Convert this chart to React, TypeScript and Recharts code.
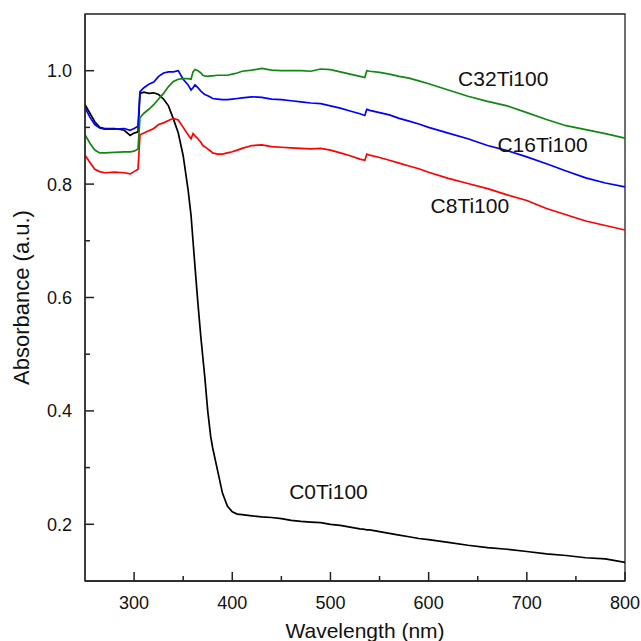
import { LineChart, Line, XAxis, YAxis, ReferenceArea, ReferenceDot } from 'recharts';

// wavelength grid (nm)
const wavelength = [
  250, 255, 260, 265, 270, 280, 290, 296, 300, 304, 306, 310, 315, 320, 325, 330, 335, 340, 345, 350,
  355, 358, 360, 362, 365, 368, 370, 372, 375, 378, 380, 385, 390, 395, 400, 405, 410, 420, 430, 440,
  450, 460, 470, 480, 490, 500, 510, 520, 530, 535, 537, 540, 550, 560, 570, 580, 590, 600, 620, 640,
  660, 680, 700, 720, 740, 760, 780, 800,
];

const c0Ti100 = [
  0.940, 0.925, 0.910, 0.900, 0.898, 0.898, 0.895, 0.886, 0.890, 0.892, 0.960, 0.962, 0.960, 0.961, 0.958, 0.950, 0.938, 0.915, 0.890, 0.850,
  0.790, 0.745, 0.700, 0.655, 0.590, 0.530, 0.495, 0.460, 0.400, 0.355, 0.335, 0.295, 0.255, 0.232, 0.222, 0.218, 0.217, 0.215, 0.213, 0.212,
  0.210, 0.207, 0.205, 0.204, 0.203, 0.200, 0.198, 0.195, 0.192, 0.191, 0.190, 0.190, 0.187, 0.184, 0.181, 0.178, 0.175, 0.173, 0.168, 0.163,
  0.159, 0.156, 0.152, 0.148, 0.145, 0.141, 0.139, 0.133,
];

const c8Ti100 = [
  0.851, 0.838, 0.826, 0.822, 0.820, 0.821, 0.820, 0.818, 0.822, 0.826, 0.887, 0.890, 0.894, 0.898, 0.905, 0.908, 0.912, 0.916, 0.913, 0.900,
  0.887, 0.880, 0.889, 0.885, 0.880, 0.874, 0.868, 0.866, 0.862, 0.858, 0.855, 0.853, 0.853, 0.855, 0.857, 0.860, 0.863, 0.868, 0.869, 0.866,
  0.865, 0.864, 0.863, 0.862, 0.863, 0.860, 0.855, 0.850, 0.844, 0.842, 0.853, 0.851, 0.847, 0.842, 0.837, 0.832, 0.827, 0.821, 0.810, 0.801,
  0.792, 0.781, 0.771, 0.757, 0.746, 0.735, 0.727, 0.719,
];

const c16Ti100 = [
  0.935, 0.918, 0.905, 0.899, 0.897, 0.897, 0.898, 0.895, 0.898, 0.902, 0.963, 0.970, 0.976, 0.980, 0.990, 0.996, 0.998, 0.998, 1.000, 0.985,
  0.975, 0.966, 0.970, 0.975, 0.970, 0.964, 0.961, 0.958, 0.956, 0.953, 0.951, 0.950, 0.949, 0.949, 0.950, 0.951, 0.952, 0.954, 0.953, 0.950,
  0.949, 0.947, 0.945, 0.943, 0.942, 0.938, 0.934, 0.929, 0.924, 0.921, 0.932, 0.930, 0.926, 0.922, 0.916, 0.911, 0.906, 0.900, 0.890, 0.880,
  0.868, 0.859, 0.848, 0.836, 0.823, 0.811, 0.802, 0.795,
];

const c32Ti100 = [
  0.887, 0.872, 0.860, 0.855, 0.855, 0.856, 0.857, 0.857, 0.858, 0.862, 0.917, 0.925, 0.932, 0.940, 0.950, 0.960, 0.972, 0.981, 0.985, 0.986,
  0.986, 0.985, 0.998, 1.002, 1.000, 0.996, 0.992, 0.991, 0.990, 0.991, 0.991, 0.992, 0.992, 0.992, 0.994, 0.996, 0.999, 1.001, 1.004, 1.001,
  1.000, 1.000, 1.000, 0.999, 1.003, 1.002, 0.998, 0.994, 0.990, 0.988, 1.000, 0.999, 0.997, 0.994, 0.990, 0.987, 0.982, 0.977, 0.966, 0.955,
  0.946, 0.938, 0.926, 0.914, 0.903, 0.896, 0.889, 0.881,
];

const xTicks = [300, 350, 400, 450, 500, 550, 600, 650, 700, 750, 800];
const yTicks = [0.2, 0.3, 0.4, 0.5, 0.6, 0.7, 0.8, 0.9, 1.0];

// series label anchors, in data units (nm, absorbance)
const seriesLabels = [
  { name: 'C32Ti100', wl: 676, abs: 0.987 },
  { name: 'C16Ti100', wl: 716, abs: 0.869 },
  { name: 'C8Ti100', wl: 642, abs: 0.763 },
  { name: 'C0Ti100', wl: 498, abs: 0.257 },
];

const chartData = wavelength.map((wl, i) => ({
  wl,
  c0: c0Ti100[i],
  c8: c8Ti100[i],
  c16: c16Ti100[i],
  c32: c32Ti100[i],
}));

const axisColor = '#222';

// inward ticks, long ones carry a label
function XTick(props: any) {
  const { x, y, payload } = props;
  const major = payload.value % 100 === 0;
  const len = major ? 9 : 5;
  return (
    <g>
      <rect x={x - 0.75} y={y - len} width={1.5} height={len} fill={axisColor} />
      {major && (
        <text x={x} y={y + 28} textAnchor="middle" fontSize={18} fill="#111">
          {payload.value}
        </text>
      )}
    </g>
  );
}

function YTick(props: any) {
  const { x, y, payload } = props;
  const major = Math.round(payload.value * 10) % 2 === 0;
  const len = major ? 9 : 5;
  return (
    <g>
      <rect x={x} y={y - 0.75} width={len} height={1.5} fill={axisColor} />
      {major && (
        <text x={x - 13} y={y} dy="0.36em" textAnchor="end" fontSize={18} fill="#111">
          {payload.value.toFixed(1)}
        </text>
      )}
    </g>
  );
}

function YTitle(props: any) {
  const { viewBox } = props;
  const cx = viewBox.x + 21;
  const cy = viewBox.y + viewBox.height / 2;
  return (
    <text x={cx} y={cy} dy="0.36em" textAnchor="middle" fontSize={22} fill="#111" transform={`rotate(-90 ${cx} ${cy})`}>
      Absorbance (a.u.)
    </text>
  );
}

export default function App() {
  return (
    <div style={{ position: 'absolute', left: 0, top: 0, background: '#fff' }}>
      <LineChart
        width={641}
        height={641}
        data={chartData}
        margin={{ top: 14, right: 16, left: 0, bottom: 0 }}
        style={{ fontFamily: '"Liberation Sans", Arial, sans-serif' }}
      >
        <ReferenceArea x1={250} x2={800} y1={0.1} y2={1.1} fill="none" stroke={axisColor} strokeWidth={1.3} />
        <XAxis
          dataKey="wl"
          type="number"
          domain={[250, 800]}
          ticks={xTicks}
          interval={0}
          height={60}
          tickSize={0}
          tickMargin={0}
          tickLine={false}
          tick={<XTick />}
          axisLine={{ stroke: axisColor, strokeWidth: 1.3 }}
          allowDataOverflow
          label={{ value: 'Wavelength (nm)', position: 'insideBottom', offset: 3, dx: 10, fontSize: 21, fill: '#111' }}
        />
        <YAxis
          type="number"
          domain={[0.1, 1.1]}
          ticks={yTicks}
          interval={0}
          width={85}
          tickSize={0}
          tickMargin={0}
          tickLine={false}
          tick={<YTick />}
          axisLine={{ stroke: axisColor, strokeWidth: 1.3 }}
          allowDataOverflow
          label={{ content: <YTitle /> }}
        />
        <Line type="linear" dataKey="c0" stroke="#000000" strokeWidth={1.7} dot={false} isAnimationActive={false} />
        <Line type="linear" dataKey="c8" stroke="#ff0000" strokeWidth={1.7} dot={false} isAnimationActive={false} />
        <Line type="linear" dataKey="c16" stroke="#0000ff" strokeWidth={1.7} dot={false} isAnimationActive={false} />
        <Line type="linear" dataKey="c32" stroke="#118811" strokeWidth={1.7} dot={false} isAnimationActive={false} />
        {seriesLabels.map((s) => (
          <ReferenceDot
            key={s.name}
            x={s.wl}
            y={s.abs}
            r={0}
            stroke="none"
            fill="none"
            label={{ value: s.name, position: 'center', fontSize: 21, fill: '#111' }}
          />
        ))}
      </LineChart>
    </div>
  );
}
